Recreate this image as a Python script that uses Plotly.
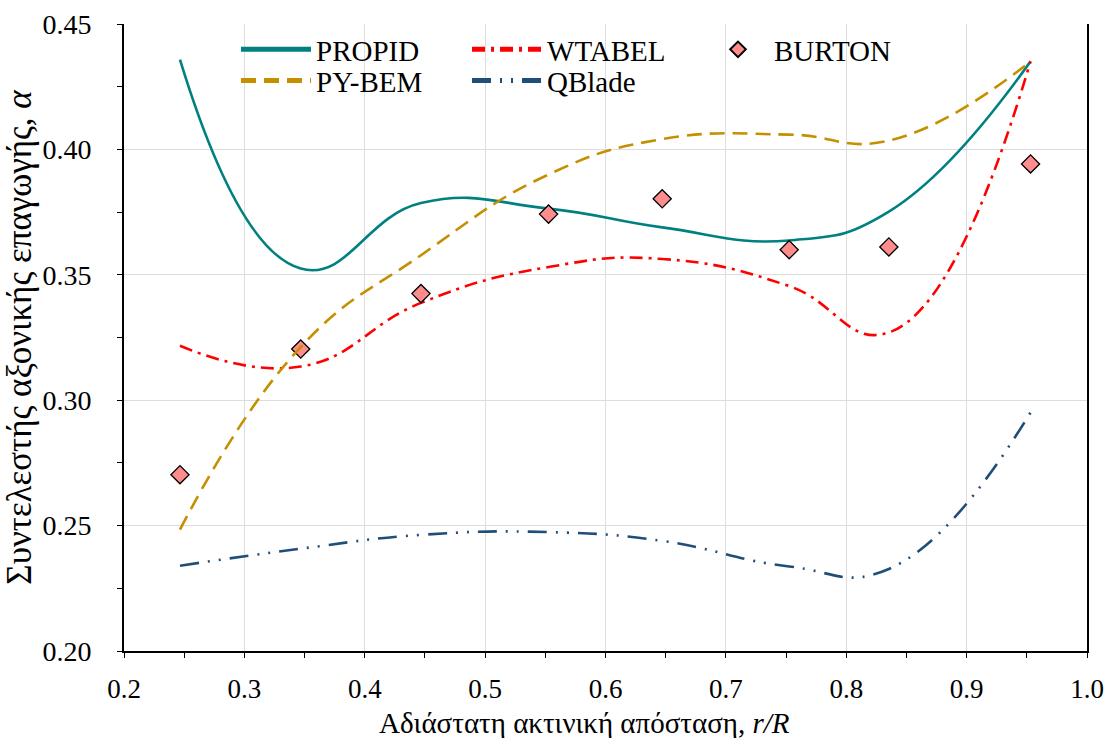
import plotly.graph_objects as go

# r/R stations
r_R = [0.2465, 0.3468, 0.4467, 0.5527, 0.6471, 0.7526, 0.8354, 0.9531]

propid = [0.4358, 0.3525, 0.3786, 0.3764, 0.3689, 0.3637, 0.3752, 0.4351]
py_bem = [0.2484, 0.3212, 0.3578, 0.3900, 0.4041, 0.4059, 0.4035, 0.4351]
wtabel = [0.3217, 0.3134, 0.3388, 0.3531, 0.3563, 0.3455, 0.3270, 0.4351]
qblade = [0.2340, 0.2408, 0.2463, 0.2474, 0.2439, 0.2337, 0.2327, 0.2951]
burton = [0.2703, 0.3204, 0.3425, 0.3742, 0.3803, 0.3600, 0.3611, 0.3942]

x_ticks = [0.2, 0.3, 0.4, 0.5, 0.6, 0.7, 0.8, 0.9, 1.0]
y_ticks = [0.20, 0.25, 0.30, 0.35, 0.40, 0.45]

FONT = "Liberation Serif, DejaVu Serif, serif"
SM = 1.3

fig = go.Figure()
fig.add_trace(go.Scatter(x=r_R, y=propid, name="PROPID", mode="lines",
                         line=dict(color="#008080", width=2.6, shape="spline", smoothing=SM),
                         legend="legend"))
fig.add_trace(go.Scatter(x=r_R, y=wtabel, name="WTABEL", mode="lines",
                         line=dict(color="#FF0000", width=2.6, shape="spline", smoothing=SM,
                                   dash="13px,6px,3px,6px"),
                         legend="legend2"))
fig.add_trace(go.Scatter(x=r_R, y=burton, name="BURTON", mode="markers",
                         marker=dict(symbol="diamond", size=14, color="#FF8C8C",
                                     line=dict(color="black", width=1.3)),
                         legend="legend3"))
fig.add_trace(go.Scatter(x=r_R, y=py_bem, name="PY-BEM", mode="lines",
                         line=dict(color="#C49000", width=2.6, shape="spline", smoothing=SM,
                                   dash="15px,8px"),
                         legend="legend4"))
fig.add_trace(go.Scatter(x=r_R, y=qblade, name="QBlade", mode="lines",
                         line=dict(color="#1F4E79", width=2.6, shape="spline", smoothing=SM,
                                   dash="19px,9px,2px,9px,2px,9px"),
                         legend="legend5"))

legend_common = dict(orientation="v", xanchor="left", yanchor="top",
                     bgcolor="rgba(255,255,255,0)", borderwidth=0,
                     font=dict(family=FONT, size=29, color="black"),
                     tracegroupgap=0, itemsizing="constant")

ROW1, ROW2 = 1.0, 0.9505

fig.update_layout(
    width=1113, height=738,
    margin=dict(l=124, r=26, t=24, b=87),
    paper_bgcolor="white", plot_bgcolor="white",
    font=dict(family=FONT, size=24, color="black"),
    showlegend=True,
    legend=dict(x=0.1163, y=ROW1, itemwidth=70, **legend_common),
    legend2=dict(x=0.3562, y=ROW1, itemwidth=70, **legend_common),
    legend3=dict(x=0.6002, y=ROW1, itemwidth=62, **legend_common),
    legend4=dict(x=0.1163, y=ROW2, itemwidth=70, **legend_common),
    legend5=dict(x=0.3562, y=ROW2, itemwidth=70, **legend_common),
    xaxis=dict(
        range=[0.2, 1.0], tickvals=x_ticks, ticktext=[f"{v:.1f}" for v in x_ticks],
        showline=True, linecolor="black", linewidth=2,
        ticks="outside", ticklen=5, tickwidth=1.3, tickcolor="black",
        minor=dict(dtick=0.05, tick0=0.2, ticks="outside", ticklen=5, tickwidth=1.3,
                   tickcolor="black", showgrid=False),
        showgrid=True, gridcolor="#DDDDDD", gridwidth=1,
        zeroline=False, mirror=False, automargin=False,
        tickfont=dict(family=FONT, size=27),
        ticklabelstandoff=8,
    ),
    yaxis=dict(
        range=[0.2, 0.45], tickvals=y_ticks, ticktext=[f"{v:.2f}" for v in y_ticks],
        showline=True, linecolor="black", linewidth=2,
        ticks="outside", ticklen=5, tickwidth=1.3, tickcolor="black",
        minor=dict(dtick=0.025, tick0=0.2, ticks="outside", ticklen=5, tickwidth=1.3,
                   tickcolor="black", showgrid=False),
        showgrid=True, gridcolor="#DDDDDD", gridwidth=1,
        zeroline=False, mirror=True, automargin=False,
        tickfont=dict(family=FONT, size=28),
        ticklabelstandoff=20,
        title=dict(text="Συντελεστής αξονικής επαγωγής, <i>α</i>",
                   font=dict(family=FONT, size=35), standoff=2),
    ),
    annotations=[dict(
        text="Αδιάστατη ακτινική απόσταση, <i>r/R</i>",
        xref="paper", yref="paper", x=0.4787, y=-0.1148,
        xanchor="center", yanchor="middle", showarrow=False,
        font=dict(family=FONT, size=29, color="black"),
    )],
)

fig.write_html("out.html")
